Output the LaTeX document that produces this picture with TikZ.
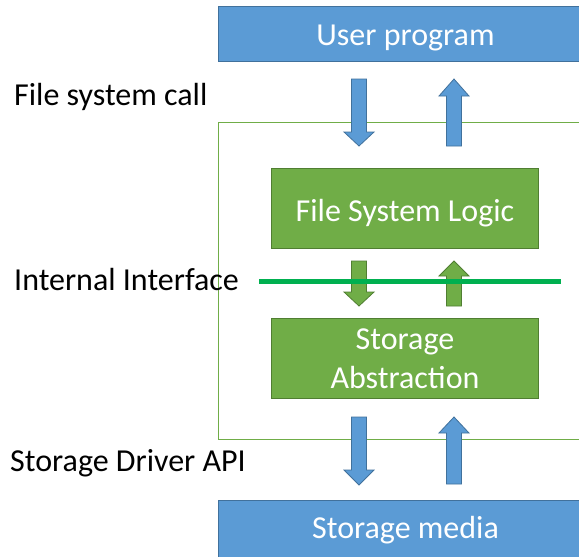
\documentclass[tikz,border=0pt]{standalone}
\usepackage{fontspec}
\setmainfont{Carlito}
\definecolor{blueF}{HTML}{5B9BD5}
\definecolor{blueD}{HTML}{41719C}
\definecolor{greenF}{HTML}{70AD47}
\definecolor{greenD}{HTML}{507E32}
\definecolor{ifline}{HTML}{00B050}
\newcommand\dnarr[5]{\draw[#1] ({#2-7.5},#3) -- ({#2+7.5},#3) -- ({#2+7.5},#4) -- ({#2+15},#4) -- (#2,#5) -- ({#2-15},#4) -- ({#2-7.5},#4) -- cycle;}
\newcommand\uparr[5]{\draw[#1] ({#2-7.5},#3) -- ({#2+7.5},#3) -- ({#2+7.5},#4) -- ({#2+15},#4) -- (#2,#5) -- ({#2-15},#4) -- ({#2-7.5},#4) -- cycle;}
\begin{document}
\begin{tikzpicture}[x=1pt,y=-1pt,
  bigfont/.style={font=\fontsize{32}{39}\selectfont},
  blueblock/.style={draw=blueD, fill=blueF, line width=1pt, inner sep=0pt},
  greenblock/.style={draw=greenD, fill=greenF, line width=1pt, inner sep=0pt},
  intext/.style={text=white, bigfont, inner sep=0pt, align=center},
  lbl/.style={bigfont, text=black, inner sep=0pt, anchor=west},
  bluearrow/.style={draw=blueD, fill=blueF, line width=0.8pt},
  greenarrow/.style={draw=greenD, fill=greenF, line width=0.8pt}]
\useasboundingbox (0,0) rectangle (579,557);
\clip (0,0) rectangle (579,557);
\fill[white] (0,0) rectangle (579,557);
% frame
\node[draw=greenF, line width=1pt, minimum width=374pt, minimum height=317pt, anchor=north west, inner sep=0pt] (frame) at (218,122) {};
% blocks
\node[blueblock, minimum width=374pt, minimum height=55pt, anchor=north west] (user) at (218,6) {};
\node[intext, yshift=-3.5pt] (usertext) at (user.center) {User program};
\node[blueblock, minimum width=374pt, minimum height=60pt, anchor=north west] (media) at (218,500) {};
\node[intext] (mediatext) at (media.center) {Storage media};
\node[greenblock, minimum width=267pt, minimum height=80pt, anchor=north west] (fsl) at (271,168) {};
\node[intext, yshift=-4.5pt] (fsltext) at (fsl.center) {File System Logic};
\node[greenblock, minimum width=267pt, minimum height=80pt, anchor=north west] (sa) at (271,318) {};
\node[intext, yshift=-0.5pt] (satext) at (sa.center) {Storage\\Abstraction};
% labels
\node[lbl] (l1) at (14,97) {File system call};
\node[lbl] (l2) at (14,280) {Internal Interface};
\node[lbl] (l3) at (10,463) {Storage Driver API};
% top arrows
\dnarr{bluearrow}{359}{79}{132}{146}
\uparr{bluearrow}{454}{146}{96}{79}
% middle arrows
\dnarr{greenarrow}{359}{261}{292}{306}
\uparr{greenarrow}{454}{306}{276}{261}
% interface line
\draw[ifline, line width=5pt] (259,281) -- (561,281);
% bottom arrows
\dnarr{bluearrow}{359}{417}{470}{485}
\uparr{bluearrow}{454}{484}{433}{417}
\end{tikzpicture}
\end{document}
